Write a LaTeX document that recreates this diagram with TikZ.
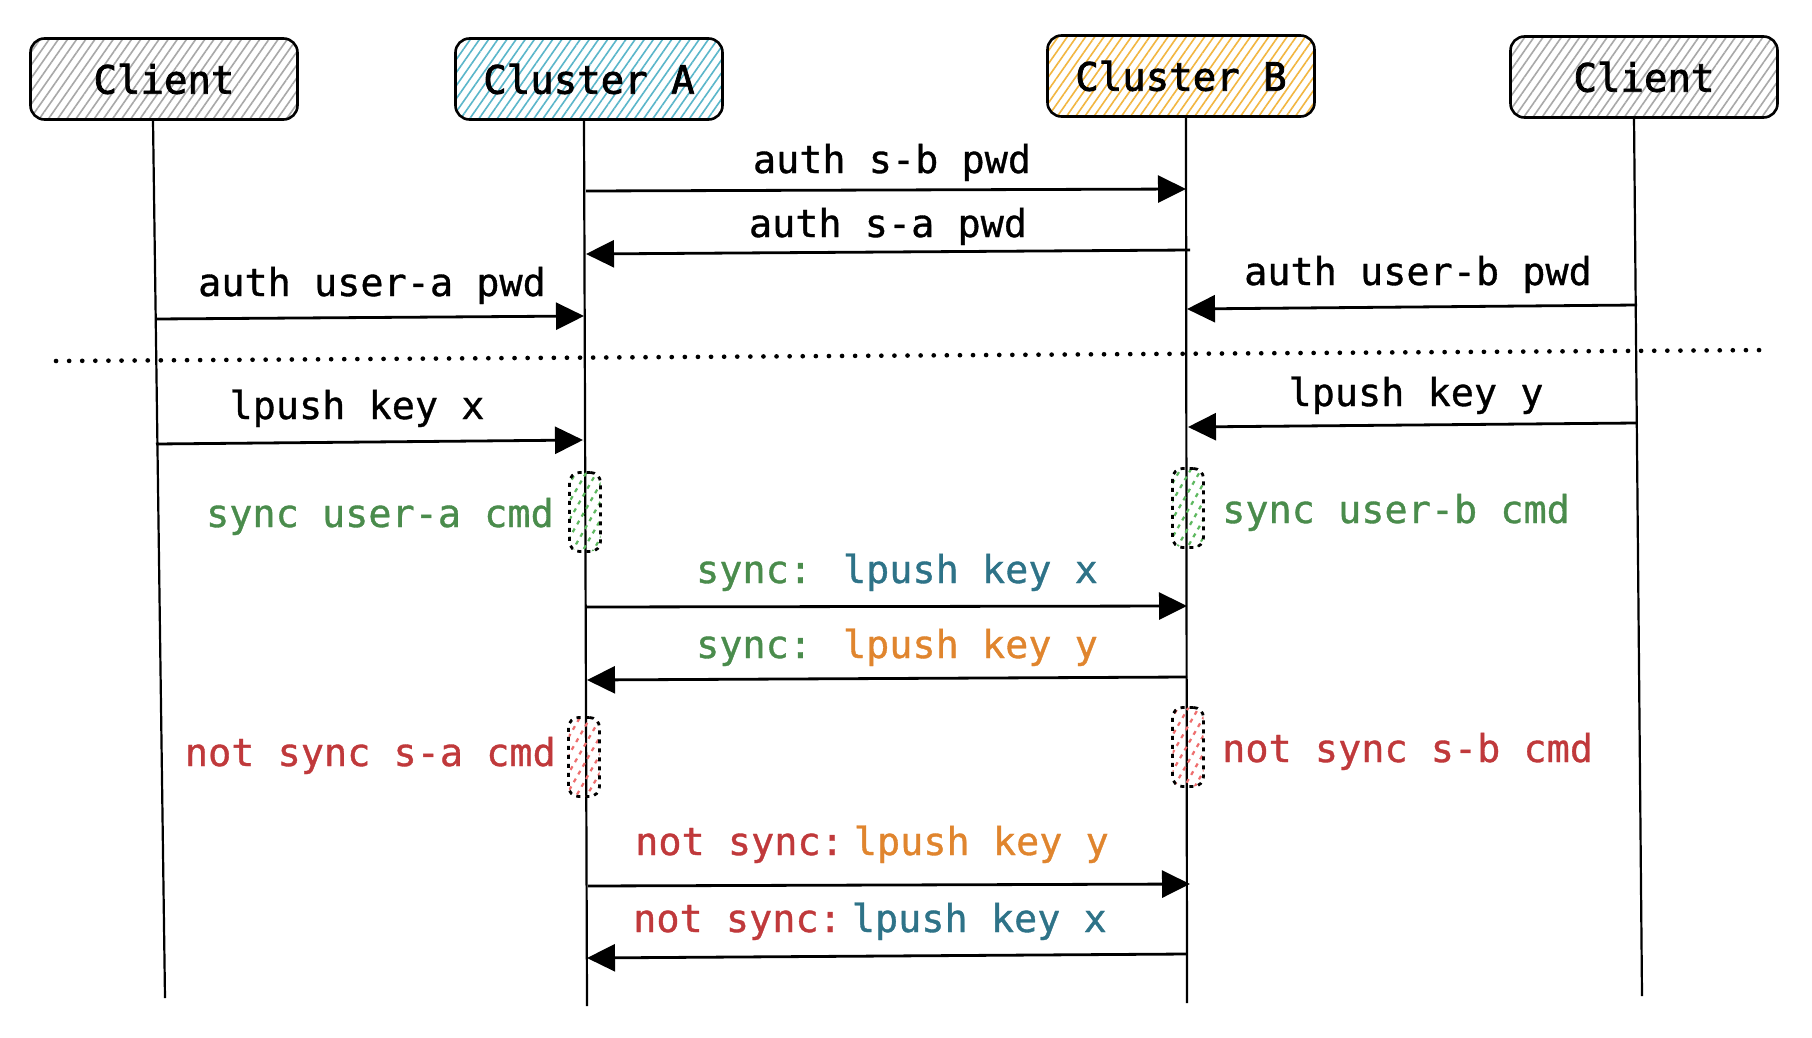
\documentclass[tikz,border=0pt]{standalone}
\usepackage{fontspec}
\newfontfamily\monofont[FakeBold=0.9]{DejaVu Sans Mono}
\newfontfamily\headfont[FakeBold=2]{DejaVu Sans Mono}
\usetikzlibrary{arrows.meta,patterns.meta}
\definecolor{tgreen}{HTML}{4A8C4C}
\definecolor{tblue}{HTML}{2E7388}
\definecolor{torange}{HTML}{E0852E}
\definecolor{tred}{HTML}{C0393B}
\definecolor{hgray}{HTML}{A8A8A8}
\definecolor{hcyan}{HTML}{5AB6CA}
\definecolor{horange}{HTML}{F2B640}
\definecolor{hgreen}{HTML}{5DB85F}
\definecolor{hred}{HTML}{EE6E6E}
\tikzset{
  txt/.style={font=\monofont\fontsize{38.5pt}{46pt}\selectfont},
  head/.style={draw=black, line width=2.6pt, rounded corners=14pt, inner sep=0pt,
    minimum height=81pt, minimum width=267pt,
    font=\headfont\fontsize{39pt}{46pt}\selectfont,
    pattern={Lines[angle=55,distance=7.5pt,line width=1.6pt]}, pattern color=#1},
  act/.style={draw=black, line width=2.8pt, dash pattern=on 4pt off 5pt, rounded corners=10pt,
    inner sep=0pt, minimum width=31pt, minimum height=79pt,
    pattern={Lines[angle=60,distance=9pt,line width=2.2pt]}, pattern color=#1},
  life/.style={line width=2.2pt, draw=black},
  msg/.style={line width=2.8pt, -{Triangle[length=28pt,width=27pt]}},
  lbl/.style={txt, anchor=base, inner sep=0pt},
  lble/.style={txt, anchor=base east, inner sep=0pt},
  lblw/.style={txt, anchor=base west, inner sep=0pt},
}
\begin{document}
\begin{tikzpicture}[x=1pt,y=-1pt]
\useasboundingbox (0,0) rectangle (1812,1038);
\fill[white] (0,0) rectangle (1812,1038);

% heads
\node[head=hgray]   (cl) at (164,79)  {Client};
\node[head=hcyan]   (ca) at (589,79)  {Cluster A};
\node[head=horange] (cb) at (1181,76) {Cluster B};
\node[head=hgray]   (cr) at (1644,77) {Client};

% lifelines
\coordinate (clt) at (153,120);  \coordinate (clb) at (165,998);
\coordinate (cat) at (584,119);  \coordinate (cab) at (587,1006);
\coordinate (cbt) at (1186,117); \coordinate (cbb) at (1187,1003);
\coordinate (crt) at (1634,117); \coordinate (crb) at (1642,996);
\draw[life] (clt) -- (clb);
\draw[life] (cat) -- (cab);
\draw[life] (cbt) -- (cbb);
\draw[life] (crt) -- (crb);

% activation boxes
\node[act=hgreen] (aga) at (585,512) {};
\node[act=hgreen] (agb) at (1188,508) {};
\node[act=hred]   (ara) at (584,757) {};
\node[act=hred]   (arb) at (1188,747) {};

% message end points
\coordinate (m1s) at (586,191);  \coordinate (m1e) at (1186,189);
\coordinate (m2s) at (1190,250); \coordinate (m2e) at (586,254);
\coordinate (m3s) at (156,319);  \coordinate (m3e) at (584,316);
\coordinate (m4s) at (1637,305); \coordinate (m4e) at (1187,309);
\coordinate (m6s) at (156,444);  \coordinate (m6e) at (583,440);
\coordinate (m7s) at (1637,423); \coordinate (m7e) at (1188,427);
\coordinate (m9s) at (586,607);  \coordinate (m9e) at (1187,606);
\coordinate (m10s) at (1187,677); \coordinate (m10e) at (587,680);
\coordinate (m11s) at (588,886); \coordinate (m11e) at (1190,884);
\coordinate (m12s) at (1187,954); \coordinate (m12e) at (587,958);
\coordinate (d1) at (56,361);    \coordinate (d2) at (1771,350);

\draw[msg] (m1s) -- (m1e);
\draw[msg] (m2s) -- (m2e);
\draw[msg] (m3s) -- (m3e);
\draw[msg] (m4s) -- (m4e);
\draw[line width=4.6pt, line cap=round, dash pattern=on 0.1pt off 13pt] (d1) -- (d2);
\draw[msg] (m6s) -- (m6e);
\draw[msg] (m7s) -- (m7e);
\draw[msg] (m9s) -- (m9e);
\draw[msg] (m10s) -- (m10e);
\draw[msg] (m11s) -- (m11e);
\draw[msg] (m12s) -- (m12e);

% labels
\node[lbl] (l1) at (892,173) {auth s-b pwd};
\node[lbl] (l2) at (888,237) {auth s-a pwd};
\node[lbl] (l3) at (372,296) {auth user-a pwd};
\node[lbl] (l4) at (1418,285) {auth user-b pwd};
\node[lbl] (l6) at (357,419) {lpush key x};
\node[lbl] (l7) at (1416,406) {lpush key y};
\node[lble, text=tgreen] (l8a) at (554,527) {sync user-a cmd};
\node[lblw, text=tgreen] (l8b) at (1222,523) {sync user-b cmd};
\node[lbl] (l9) at (897,583) {\textcolor{tgreen}{sync:} \textcolor{tblue}{lpush key x}};
\node[lbl] (l10) at (897,658) {\textcolor{tgreen}{sync:} \textcolor{torange}{lpush key y}};
\node[lble, text=tred] (l11a) at (556,766) {not sync s-a cmd};
\node[lblw, text=tred] (l11b) at (1222,762) {not sync s-b cmd};
\node[lbl] (l12) at (872,855) {\textcolor{tred}{not sync:}\hspace{10pt}\textcolor{torange}{lpush key y}};
\node[lbl] (l13) at (870,932) {\textcolor{tred}{not sync:}\hspace{10pt}\textcolor{tblue}{lpush key x}};
\end{tikzpicture}
\end{document}
